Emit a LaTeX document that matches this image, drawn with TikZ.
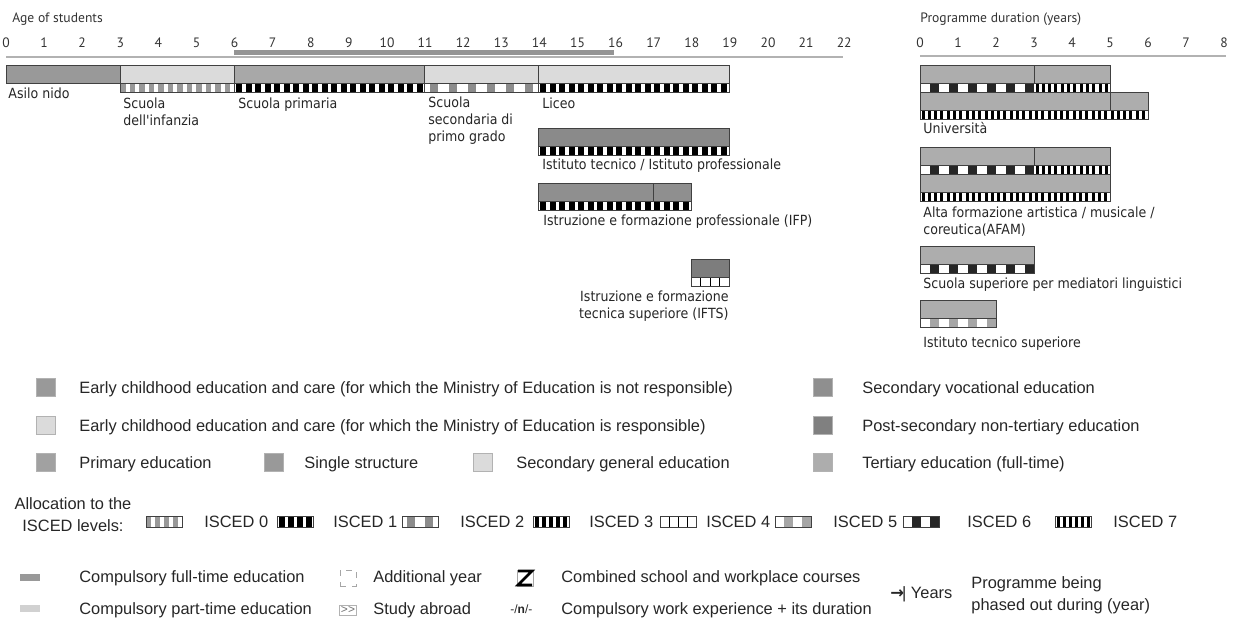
\documentclass[tikz,border=0pt]{standalone}
\usepackage{fontspec}
\usepackage{tikz}
\newfontfamily\barfont[FakeStretch=0.9]{DejaVu Sans}
\newfontfamily\keyfont{Liberation Sans}
\newfontfamily\axisfont{PT Sans}
\newfontfamily\symfont{DejaVu Sans}
% strip of ISCED cells: x0, x1, y0, y1, period, cell width, offset, colour
\newcommand{\iscedstrip}[8]{%
  \begin{scope}
    \clip (#1,#3) rectangle (#2,#4);
    \fill[white] (#1,#3) rectangle (#2,#4);
    \pgfmathtruncatemacro{\ncells}{(#2-#1)/#5+1}
    \foreach \k in {0,...,\ncells}
      \fill[#8] ({#1+#7+\k*#5},#3) rectangle ({#1+#7+\k*#5+#6},#4);
  \end{scope}}

\begin{document}
\begin{tikzpicture}[x=0.5pt,y=-0.5pt,
  bar/.style={draw=black!75,line width=0.5pt},
  lbl/.style={font={\barfont\fontsize{7}{8.3}\selectfont},anchor=base west,inner sep=0,align=left,text=black!85},
  tick/.style={font={\axisfont\fontsize{6.8}{8}\selectfont},anchor=base,inner sep=0,text=black!80},
  key/.style={font={\keyfont\fontsize{8.2}{11}\selectfont},anchor=base west,inner sep=0,text=black!85},
  swatch/.style={draw=black!30,line width=0.3pt}]
\useasboundingbox (0,0) rectangle (1236,621);

% axes
\path (12,23) node(agehead)[tick,anchor=base west]{Age of students}
      (920,23) node(durhead)[tick,anchor=base west]{Programme duration (years)};
\foreach \a in {0,...,22} \node[tick] (age\a) at ({6+38.1*\a},47) {\a};
\foreach \d in {0,...,8} \node[tick] (dur\d) at ({920+38*\d},47) {\d};
\draw[black!30,line width=0.6pt] (6,57) -- (843,57);
\draw[black!30,line width=0.6pt] (920,56) -- (1226,56);
\draw[black!42,line width=2.6pt] (234,52.5) -- (614,52.5);

% age bars
\fill[black!40] (6,65) rectangle (120,83);
\draw[bar] (6,65) rectangle (120,83);
\fill[black!14] (120,65) rectangle (234,83);
\iscedstrip{120}{234}{83}{92}{9.5}{5.5}{0}{black!40}
\draw[bar] (120,65) rectangle (234,92) (120,83) -- (234,83);
\fill[black!34] (234,65) rectangle (424,83);
\iscedstrip{234}{424}{83}{92}{9.5}{6}{2}{black}
\draw[bar] (234,65) rectangle (424,92) (234,83) -- (424,83);
\fill[black!14] (424,65) rectangle (538,83);
\iscedstrip{424}{538}{83}{92}{19}{8}{6}{black!45}
\draw[bar] (424,65) rectangle (538,92) (424,83) -- (538,83);
\fill[black!14] (538,65) rectangle (729,83);
\iscedstrip{538}{729}{83}{92}{9.5}{6}{2}{black}
\draw[bar] (538,65) rectangle (729,92) (538,83) -- (729,83);

\fill[black!46] (538,128) rectangle (729,146);
\iscedstrip{538}{729}{146}{155}{9.5}{6}{2}{black}
\draw[bar] (538,128) rectangle (729,155) (538,146) -- (729,146);

\fill[black!44] (538,183) rectangle (691,201);
\iscedstrip{538}{691}{201}{210}{9.5}{6}{2}{black}
\draw[bar] (538,183) rectangle (691,210) (538,201) -- (691,201) (653,183) -- (653,201);

\fill[black!51] (691,259) rectangle (729,277);
\iscedstrip{691}{729}{277}{286}{9.5}{1}{9}{black}
\draw[bar] (691,259) rectangle (729,286) (691,277) -- (729,277);

% duration bars
\fill[black!32] (920,65) rectangle (1110,83);
\iscedstrip{920}{1034}{83}{92}{19}{9.5}{9.5}{black!85}
\iscedstrip{1034}{1110}{83}{92}{6.3}{3}{1.5}{black}
\draw[bar] (920,65) rectangle (1110,92) (920,83) -- (1110,83) (1034,65) -- (1034,83);
\fill[black!32] (920,92) rectangle (1148,110);
\iscedstrip{920}{1148}{110}{119}{6.3}{3}{1.5}{black}
\draw[bar] (920,92) rectangle (1148,119) (920,110) -- (1148,110) (1110,92) -- (1110,110);

\fill[black!32] (920,147) rectangle (1110,165);
\iscedstrip{920}{1034}{165}{174}{19}{9.5}{9.5}{black!85}
\iscedstrip{1034}{1110}{165}{174}{6.3}{3}{1.5}{black}
\draw[bar] (920,147) rectangle (1110,174) (920,165) -- (1110,165) (1034,147) -- (1034,165);
\fill[black!32] (920,174) rectangle (1110,192);
\iscedstrip{920}{1110}{192}{201}{6.3}{3}{1.5}{black}
\draw[bar] (920,174) rectangle (1110,201) (920,192) -- (1110,192);

\fill[black!32] (920,246) rectangle (1034,264);
\iscedstrip{920}{1034}{264}{273}{19}{9.5}{9.5}{black!85}
\draw[bar] (920,246) rectangle (1034,273) (920,264) -- (1034,264);

\fill[black!32] (920,300) rectangle (996,318);
\iscedstrip{920}{996}{318}{327}{19}{9}{9.5}{black!35}
\draw[bar] (920,300) rectangle (996,327) (920,318) -- (996,318);

% bar labels (multi-line ones sit on their last line)
\path (8,98) node(asilo)[lbl]{Asilo nido}
      (123,125) node(infanzia)[lbl]{Scuola\\dell'infanzia}
      (238,108) node(primaria)[lbl]{Scuola primaria}
      (428,141) node(secondaria)[lbl]{Scuola\\secondaria di\\primo grado}
      (542,108) node(liceo)[lbl]{Liceo}
      (542,169) node(tecnico)[lbl]{Istituto tecnico / Istituto professionale}
      (543,225) node(ifp)[lbl]{Istruzione e formazione professionale (IFP)}
      (729,318) node(ifts)[lbl,anchor=base east,align=right]{Istruzione e formazione\\tecnica superiore (IFTS)}
      (923,133) node(univ)[lbl]{Università}
      (923,234) node(afam)[lbl]{Alta formazione artistica / musicale /\\coreutica(AFAM)}
      (923,288) node(ssml)[lbl]{Scuola superiore per mediatori linguistici}
      (923,347) node(its)[lbl]{Istituto tecnico superiore};

% colour key
\fill[black!40,swatch] (36,378) rectangle (55,396);
\fill[black!14,swatch] (36,416) rectangle (55,434);
\fill[black!37,swatch] (36,453) rectangle (55,471);
\fill[black!40,swatch] (264,453) rectangle (283,471);
\fill[black!14,swatch] (473,453) rectangle (492,471);
\fill[black!44,swatch] (813,378) rectangle (832,396);
\fill[black!50,swatch] (813,416) rectangle (832,434);
\fill[black!32,swatch] (813,453) rectangle (832,471);
\path (79,393) node(kecnr)[key]{Early childhood education and care (for which the Ministry of Education is not responsible)}
      (79,431) node(kecr)[key]{Early childhood education and care (for which the Ministry of Education is responsible)}
      (79,468) node(kprim)[key]{Primary education}
      (304,468) node(ksingle)[key]{Single structure}
      (516,468) node(kgen)[key]{Secondary general education}
      (862,393) node(kvoc)[key]{Secondary vocational education}
      (862,431) node(kpost)[key]{Post-secondary non-tertiary education}
      (862,468) node(kter)[key]{Tertiary education (full-time)};

% ISCED key
\node[key,anchor=base,align=center] (kalloc) at (73,531) {Allocation to the\\ISCED levels:};
\iscedstrip{146}{182}{516}{527}{9}{5}{0}{black!40}
\iscedstrip{277}{313}{516}{527}{9}{5.5}{2}{black}
\iscedstrip{402}{438}{516}{527}{18}{8}{5}{black!45}
\iscedstrip{533}{569}{516}{527}{7}{4}{1.5}{black}
\iscedstrip{660}{696}{516}{527}{9}{1}{9}{black}
\iscedstrip{775}{811}{516}{527}{18}{9}{9}{black!35}
\iscedstrip{903}{939}{516}{527}{18}{9}{9}{black!85}
\iscedstrip{1055}{1091}{516}{527}{6}{3}{1.5}{black}
\foreach \x in {146,277,402,533,660,775,903,1055} \draw[bar] (\x,516) rectangle ++(36,11);
\path (204,527) node(isc0)[key]{ISCED 0}
      (333,527) node(isc1)[key]{ISCED 1}
      (460,527) node(isc2)[key]{ISCED 2}
      (589,527) node(isc3)[key]{ISCED 3}
      (706,527) node(isc4)[key]{ISCED 4}
      (833,527) node(isc5)[key]{ISCED 5}
      (967,527) node(isc6)[key]{ISCED 6}
      (1113,527) node(isc7)[key]{ISCED 7};

% other symbols
\fill[black!40] (20,574) rectangle (40,581);
\fill[black!18] (20,605) rectangle (40,612);
\node[draw=black!35,dashed,line width=0.4pt,minimum width=8pt,minimum height=8pt,inner sep=0] (addyear) at (348,578) {};
\node[draw=black!30,line width=0.4pt,inner sep=0.8pt,font={\keyfont\fontsize{6}{7}\selectfont},text=black!55] (abroad) at (348,610) {>>};
\draw[black!35,line width=0.3pt] (517,570) rectangle (533,586);
\draw[black,line width=1.3pt] (518,571) -- (532,571) -- (518,585) -- (532,585);
\path (79,582) node(kfull)[key]{Compulsory full-time education}
      (79,614) node(kpart)[key]{Compulsory part-time education}
      (373,582) node(kadd)[key]{Additional year}
      (373,614) node(kabr)[key]{Study abroad}
      (561,582) node(kcomb)[key]{Combined school and workplace courses}
      (510,613) node(kwork)[key,font={\keyfont\fontsize{6}{7}\selectfont}]{-/\textbf{n}/-}
      (561,614) node(kexp)[key]{Compulsory work experience + its duration}
      (890,598) node(kyears)[key]{{\symfont\bfseries →}\kern-1pt| Years}
      (971,610) node(kphase)[key,align=left]{Programme being\\phased out during (year)};
\end{tikzpicture}
\end{document}
